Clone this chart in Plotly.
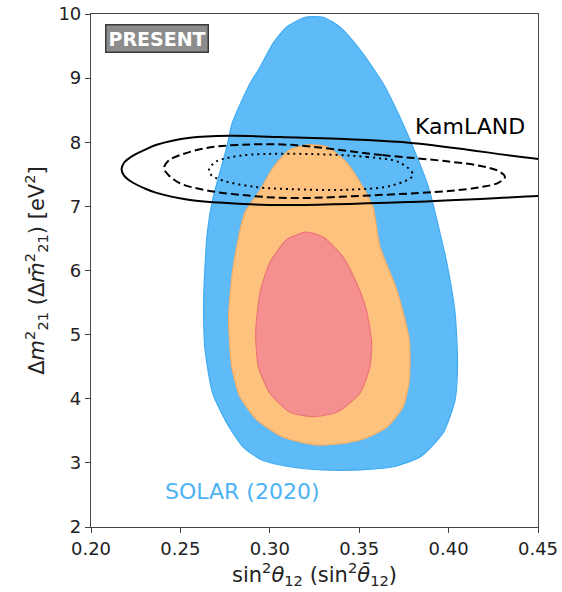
import plotly.graph_objects as go

# Solar allowed regions (sin^2 theta12 vs Delta m^2_21 in units of 1e-5 eV^2)
solar3_x = [0.3197, 0.3298, 0.339, 0.3505, 0.3633, 0.3728, 0.380, 0.388, 0.3907, 0.399, 0.4036, 0.405, 0.4036,
            0.397, 0.384, 0.369, 0.3505, 0.330, 0.311, 0.296, 0.285, 0.276, 0.268, 0.2638, 0.263, 0.265, 0.268,
            0.276, 0.279, 0.289, 0.2945, 0.302, 0.3096, 0.3197]
solar3_y = [9.95, 9.95, 9.80, 9.44, 8.92, 8.39, 7.93, 7.36, 7.10, 6.12, 5.34, 4.56, 3.98,
            3.47, 3.09, 2.94, 2.89, 2.89, 2.94, 3.04, 3.25, 3.62, 4.09, 4.76, 5.54, 6.58, 7.10,
            7.93, 8.30, 8.92, 9.17, 9.55, 9.80, 9.95]

solar2_x = [0.3208, 0.332, 0.343, 0.352, 0.3577, 0.3616, 0.371, 0.378, 0.378, 0.3745, 0.3655, 0.354, 0.343,
            0.326, 0.3075, 0.2928, 0.2833, 0.2787, 0.277, 0.2795, 0.286, 0.2945, 0.302, 0.311, 0.3208]
solar2_y = [7.96, 7.93, 7.68, 7.30, 6.99, 6.37, 5.70, 4.92, 4.29, 3.87, 3.56, 3.39, 3.31,
            3.28, 3.40, 3.67, 4.03, 4.50, 5.28, 6.05, 6.90, 7.25, 7.61, 7.88, 7.96]

solar1_x = [0.3202, 0.330, 0.341, 0.3486, 0.354, 0.357, 0.356, 0.3505, 0.3375, 0.324, 0.3113, 0.300, 0.2936,
            0.2921, 0.2945, 0.300, 0.3094, 0.3202]
solar1_y = [6.60, 6.52, 6.21, 5.80, 5.38, 4.87, 4.50, 4.09, 3.79, 3.72, 3.79, 4.09, 4.50,
            5.03, 5.65, 6.12, 6.48, 6.60]

# KamLAND allowed regions
kam3_x = [0.47, 0.45, 0.379, 0.306, 0.2777, 0.2554, 0.2367, 0.2300, 0.2228, 0.2185, 0.2171, 0.2185, 0.2228,
          0.2300, 0.2367, 0.2554, 0.2777, 0.306, 0.379, 0.45, 0.47]
kam3_y = [7.71, 7.74, 7.99, 8.08, 8.10, 8.07, 7.96, 7.88, 7.78, 7.68, 7.58, 7.48, 7.38,
          7.28, 7.21, 7.10, 7.05, 7.02, 7.07, 7.16, 7.18]

kam2_x = [0.311, 0.363, 0.400, 0.418, 0.428, 0.4315, 0.428, 0.418, 0.400, 0.363, 0.311, 0.2833, 0.2647,
          0.2498, 0.2433, 0.2408, 0.2433, 0.2498, 0.2647, 0.2833, 0.311]
kam2_y = [7.96, 7.80, 7.70, 7.63, 7.55, 7.46, 7.37, 7.30, 7.24, 7.18, 7.13, 7.18, 7.25,
          7.36, 7.49, 7.60, 7.71, 7.80, 7.91, 7.96, 7.96]

kam1_x = [0.311, 0.3544, 0.3728, 0.380, 0.369, 0.345, 0.311, 0.2928, 0.274, 0.2672, 0.266, 0.2675, 0.270,
          0.2833, 0.311]
kam1_y = [7.82, 7.77, 7.68, 7.49, 7.33, 7.26, 7.27, 7.30, 7.40, 7.49, 7.57, 7.64, 7.70,
          7.79, 7.82]

x_ticks = [0.20, 0.25, 0.30, 0.35, 0.40, 0.45]
y_ticks = [2, 3, 4, 5, 6, 7, 8, 9, 10]

FONT = "DejaVu Sans"

fig = go.Figure()

for xs, ys, fill, edge in [
    (solar3_x, solar3_y, "#5fbbf8", "#3fabf2"),
    (solar2_x, solar2_y, "#fec27f", "#f7ae63"),
    (solar1_x, solar1_y, "#f59090", "#ec7474"),
]:
    fig.add_trace(go.Scatter(x=xs, y=ys, mode="lines", fill="toself", fillcolor=fill,
                             line=dict(color=edge, width=1.2, shape="spline", smoothing=0.6),
                             hoverinfo="skip", showlegend=False))

for xs, ys, dash in [
    (kam3_x, kam3_y, "solid"),
    (kam2_x, kam2_y, "8px,4px"),
    (kam1_x, kam1_y, "2px,4px"),
]:
    fig.add_trace(go.Scatter(x=xs, y=ys, mode="lines",
                             line=dict(color="black", width=2, dash=dash, shape="spline", smoothing=1.0),
                             hoverinfo="skip", showlegend=False))

fig.add_annotation(xref="paper", yref="paper", x=(156.5 - 91) / 447, y=(527 - 38.5) / 513,
                   xanchor="center", yanchor="middle",
                   text="<b>PRESENT</b>", showarrow=False,
                   font=dict(family=FONT, size=19, color="white"),
                   bgcolor="#8c8c8c", bordercolor="#3a3a3a", borderwidth=1.5, borderpad=2)
fig.add_annotation(x=0.412, y=8.24, text="KamLAND", showarrow=False,
                   font=dict(family=FONT, size=22, color="black"))
fig.add_annotation(x=0.2845, y=2.55, text="SOLAR (2020)", showarrow=False,
                   font=dict(family=FONT, size=22, color="#4db3f5"))

axis_common = dict(showgrid=False, zeroline=False, showline=True, mirror=True, linecolor="#444444",
                   linewidth=1.2, ticks="outside", ticklen=5, tickcolor="#444444", automargin=False,
                   tickfont=dict(family=FONT, size=18, color="#222222"))

fig.update_xaxes(range=[0.20, 0.45], tickvals=x_ticks, ticktext=[f"{v:.2f}" for v in x_ticks],
                 title=dict(text="sin<sup>2</sup><i>θ</i><sub>12</sub> (sin<sup>2</sup><i>θ̄</i><sub>12</sub>)",
                            font=dict(family=FONT, size=21, color="#222222"), standoff=6),
                 **axis_common)
fig.update_yaxes(range=[2, 10], tickvals=y_ticks, ticktext=[str(v) for v in y_ticks],
                 title=dict(text="Δ<i>m</i><sup>2</sup><sub>21</sub> (Δ<i>m̄</i><sup>2</sup><sub>21</sub>) [eV<sup>2</sup>]",
                            font=dict(family=FONT, size=21, color="#222222"), standoff=8),
                 **axis_common)

fig.update_layout(width=562, height=592, margin=dict(l=91, r=24, t=14, b=65),
                  plot_bgcolor="white", paper_bgcolor="white", font=dict(family=FONT))

fig.write_html("out.html")
